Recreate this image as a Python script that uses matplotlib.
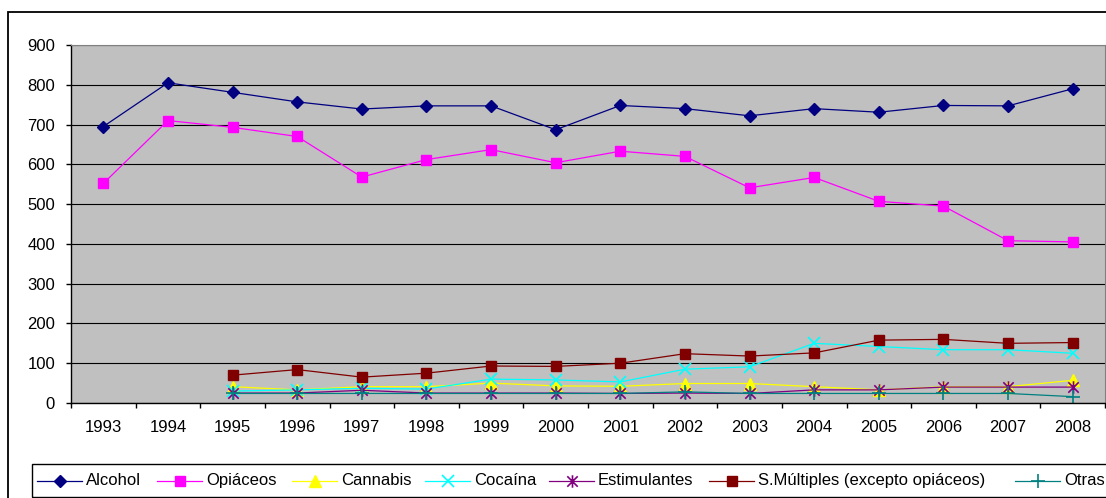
import numpy as np
import matplotlib
matplotlib.use("Agg")
import matplotlib.pyplot as plt
from matplotlib.lines import Line2D
from matplotlib.patches import Rectangle
from matplotlib.path import Path

plt.rcParams['font.family'] = ['Liberation Sans', 'DejaVu Sans']

years = [str(y) for y in range(1993, 2009)]
nan = np.nan

alcohol = [695, 805, 781, 757, 739, 747, 747, 687, 748, 740, 722, 740, 731, 748, 747, 790]
opiaceos = [552, 710, 693, 670, 568, 612, 637, 604, 633, 620, 541, 567, 507, 495, 408, 405]
cannabis = [nan, nan, 41, 33, 41, 41, 50, 43, 42, 49, 49, 41, 33, 41, 41, 57]
cocaina = [nan, nan, 30, 33, 37, 35, 60, 58, 53, 85, 91, 150, 142, 134, 134, 125]
estimulantes = [nan, nan, 25, 25, 32, 25, 25, 25, 24, 25, 24, 33, 33, 40, 40, 40]
multiples = [nan, nan, 70, 84, 65, 75, 93, 92, 100, 124, 118, 126, 158, 160, 150, 152]
otras = [nan, nan, 24, 24, 24, 24, 24, 24, 24, 28, 24, 24, 24, 24, 24, 16]

# asterisk marker: an X crossed by a vertical stroke
star_path = Path(
    [(-1, -1), (1, 1), (-1, 1), (1, -1), (0, -1.2), (0, 1.2)],
    [Path.MOVETO, Path.LINETO, Path.MOVETO, Path.LINETO, Path.MOVETO, Path.LINETO],
)

series = [
    ("Alcohol", alcohol, dict(color="#000080", marker="D", ms=6.5, mfc="#000080", mec="#000080")),
    ("Opiáceos", opiaceos, dict(color="#FF00FF", marker="s", ms=7, mfc="#FF00FF", mec="#FF00FF")),
    ("Cannabis", cannabis, dict(color="#FFFF00", marker="^", ms=8, mfc="#FFFF00", mec="#FFFF00")),
    ("Cocaína", cocaina, dict(color="#00FFFF", marker="x", ms=8, mew=1.2, mec="#00FFFF")),
    ("Estimulantes", estimulantes, dict(color="#800080", marker=star_path, ms=9, mew=1.2, mec="#800080")),
    ("S.Múltiples (excepto opiáceos)", multiples, dict(color="#800000", marker="s", ms=6.5, mfc="#800000", mec="#800000")),
    ("Otras", otras, dict(color="#008080", marker="+", ms=10, mew=1.2, mec="#008080")),
]

W, H = 1106, 498
fig = plt.figure(figsize=(W / 100, H / 100), dpi=100)
fig.patch.set_facecolor("white")

ax = fig.add_axes([71 / W, (H - 403) / H, 1034 / W, 358 / H])
ax.set_facecolor("#C0C0C0")

x = np.arange(len(years))
for name, vals, style in series:
    ax.plot(x, vals, lw=0.9, label=name, **style)

ax.set_xlim(-0.5, len(years) - 0.5)
ax.set_ylim(0, 900)
ax.set_yticks(range(0, 901, 100))
ax.yaxis.grid(True, color="black", lw=0.8)
ax.set_axisbelow(True)

ax.set_xticks(x)
ax.set_xticklabels(years)
ax.set_xticks(np.arange(-0.5, len(years)), minor=True)
ax.tick_params(axis="x", which="major", length=0, pad=12.5, labelsize=12)
ax.tick_params(axis="x", which="minor", length=3.5, width=1, direction="out")
ax.tick_params(axis="y", length=3.5, width=1, pad=8, labelsize=12)

for side in ("top", "right"):
    ax.spines[side].set_color("#808080")
    ax.spines[side].set_linewidth(0.8)
for side in ("left", "bottom"):
    ax.spines[side].set_color("black")
    ax.spines[side].set_linewidth(1.0)

# outer chart frame (runs past the right and bottom edges)
fig.patches.append(Rectangle((7.5 / W, -0.2), 1.5, (H - 11.7) / H + 0.2,
                             transform=fig.transFigure, fill=False,
                             edgecolor="black", lw=1.3))

# legend box along the bottom
fig.patches.append(Rectangle((31.7 / W, (H - 497.3) / H), 1.5, 33.3 / H,
                             transform=fig.transFigure, fill=False,
                             edgecolor="black", lw=1.0))

entry_x = [37, 157, 292, 425, 549, 709, 1015]
ly = (H - 480.5) / H
for (name, vals, style), x0 in zip(series, entry_x):
    st = dict(style)
    ln = Line2D([x0 / W, (x0 + 45) / W], [ly, ly], transform=fig.transFigure,
                lw=0.9, color=st.pop("color"))
    fig.lines.append(ln)
    mk = Line2D([(x0 + 22.5) / W], [ly], transform=fig.transFigure,
                linestyle="none", **st)
    fig.lines.append(mk)
    fig.text((x0 + 49) / W, ly, name, fontsize=12, va="center", ha="left")

fig.savefig("out.png", dpi=100)
